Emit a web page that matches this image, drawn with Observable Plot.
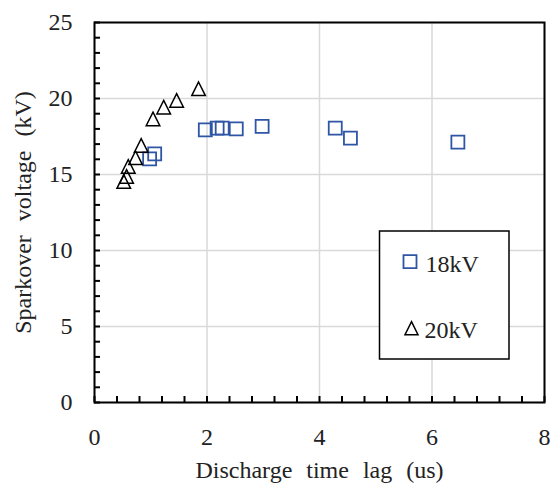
<!DOCTYPE html>
<html><head><meta charset="utf-8">
<script src="https://cdn.jsdelivr.net/npm/d3@7"></script>
<script src="https://cdn.jsdelivr.net/npm/@observablehq/plot@0.6"></script>
<style>
body{margin:0;background:#fff;}
#wrap{position:relative;width:553px;height:484px;}
#legend{position:absolute;left:378px;top:230px;}
</style></head><body><div id="wrap"></div>
<script>
// Data
const seriesNames = ["18kV", "20kV"];
const lag18 = [0.98, 1.07, 1.97, 2.18, 2.27, 2.52, 2.98, 4.28, 4.55, 6.46];
const volt18 = [16.03, 16.36, 17.94, 18.05, 18.05, 18.0, 18.16, 18.05, 17.39, 17.13];
const lag20 = [0.52, 0.57, 0.60, 0.73, 0.83, 1.04, 1.23, 1.46, 1.85];
const volt20 = [14.54, 14.87, 15.53, 16.1, 16.91, 18.66, 19.43, 19.87, 20.64];
const xTicks = [0, 2, 4, 6, 8];
const yTicks = [0, 5, 10, 15, 20, 25];
const xLabel = "Discharge time lag (us)";
const yLabel = "Sparkover voltage (kV)";

const FF = `'Liberation Serif', 'Times New Roman', serif`;

const pts18 = lag18.map((x, i) => ({x, y: volt18[i]}));
const pts20 = lag20.map((x, i) => ({x, y: volt20[i]}));
const minorX = d3.range(21).map(i => +(i * 0.4).toFixed(2));
const minorY = d3.range(26);

const squareSym = {draw(ctx, size) { const r = Math.sqrt(size / Math.PI); ctx.rect(-r, -r, 2 * r, 2 * r); }};
const triSym = {draw(ctx, size) { const r = Math.sqrt(size / Math.PI); ctx.moveTo(0, -r); ctx.lineTo(r, r); ctx.lineTo(-r, r); ctx.closePath(); }};
const blue = "#2f55a5";
const W = 553, H = 484, ML = 94, MR = 9, MT = 22, MB = 82, TICK = 6;

const chart = Plot.plot({
  width: W, height: H,
  marginLeft: ML, marginRight: MR, marginTop: MT, marginBottom: MB,
  style: `font-family:${FF};font-size:24px;word-spacing:8px;color:#000;background:#fff;overflow:visible;`,
  x: {domain: [0, 8]},
  y: {domain: [0, 25]},
  marks: [
    Plot.gridX(xTicks, {stroke: "#d9d9d9", strokeOpacity: 1, strokeWidth: 1.5}),
    Plot.gridY(yTicks, {stroke: "#d9d9d9", strokeOpacity: 1, strokeWidth: 1.5}),
    Plot.ruleX(minorX, {x: d => d, insetTop: (H - MT - MB) - TICK, stroke: "#000", strokeWidth: 2}),
    Plot.ruleY(minorY, {y: d => d, insetRight: (W - ML - MR) - TICK, stroke: "#000", strokeWidth: 2}),
    Plot.axisX(xTicks, {tickSize: 0, tickPadding: 25, label: null, fill: "#222"}),
    Plot.axisY(yTicks, {tickSize: 0, tickPadding: 22, label: null, fill: "#222"}),
    Plot.frame({stroke: "#000", strokeWidth: 2}),
    Plot.dot(pts18, {x: "x", y: "y", symbol: squareSym, r: 6.5, stroke: blue, strokeWidth: 1.8, fill: "none"}),
    Plot.dot(pts20, {x: "x", y: "y", symbol: triSym, r: 6.8, stroke: "#000", strokeWidth: 1.5, fill: "none"}),
    Plot.text([xLabel], {frameAnchor: "bottom", lineAnchor: "middle", dy: 68, fill: "#222"}),
    Plot.text([yLabel], {frameAnchor: "left", textAnchor: "middle", rotate: -90, dx: -71, fill: "#222"})
  ]
});
const wrap = document.getElementById("wrap");
wrap.appendChild(chart);

// Legend
const leg = d3.select(wrap).append("svg").attr("id", "legend")
  .attr("width", 133).attr("height", 131)
  .style("font-family", FF).style("font-size", "24px");
leg.append("rect").attr("x", 1.5).attr("y", 1).attr("width", 129.5).attr("height", 128)
  .attr("fill", "#fff").attr("stroke", "#000").attr("stroke-width", 1.5);
const items = [
  {name: seriesNames[0], sym: squareSym, color: blue, sw: 1.8},
  {name: seriesNames[1], sym: triSym, color: "#000", sw: 1.5}
];
items.forEach((it, i) => {
  const cy = 31.7 + i * 66.5;
  leg.append("path").attr("d", d3.symbol(it.sym, Math.PI * 6.5 * 6.5)())
    .attr("transform", `translate(${32 + i * 1.5},${cy})`)
    .attr("fill", "none").attr("stroke", it.color).attr("stroke-width", it.sw);
  leg.append("text").attr("x", 47.5 - i).attr("y", cy + 10).attr("fill", "#222").text(it.name);
});
</script></body></html>
